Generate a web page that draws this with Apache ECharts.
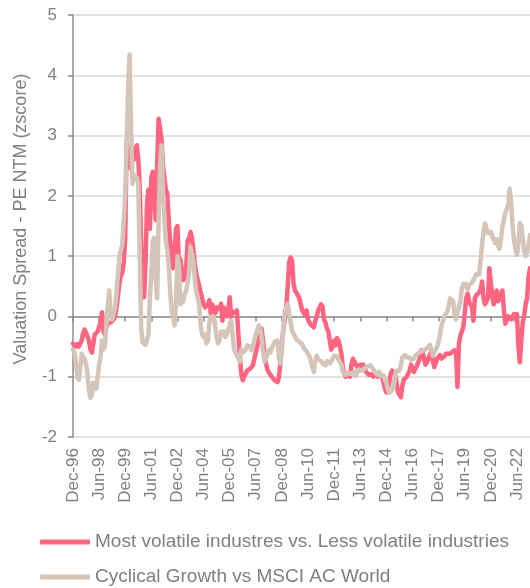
<!DOCTYPE html>
<html lang="en">
<head>
    <meta charset="UTF-8">
    <title>Valuation Spread</title>
    <script src="https://cdn.jsdelivr.net/npm/echarts@6/dist/echarts.min.js"></script>
    <style>
        body { margin: 0; padding: 0; background: #fff; }
        #chart { width: 530px; height: 588px; }
    </style>
</head>
<body>
<div id="chart"></div>
<script>
    // monthly series, Dec-96 onwards
    const startYear = 1996;
    const startMonth = 11; // December

    const volatileSpread = [
        -0.45, -0.48, -0.5, -0.46, -0.5, -0.45, -0.4, -0.28, -0.22, -0.27, -0.3, -0.4,
        -0.55, -0.6, -0.45, -0.3, -0.28, -0.25, -0.22, -0.1, 0.07, -0.25, -0.3, -0.18,
        -0.12, -0.15, -0.1, -0.08, -0.05, 0.0, 0.15, 0.35, 0.55, 0.68, 0.72, 0.9,
        1.3, 2.9, 2.75, 2.5, 2.45, 2.8, 2.6, 2.75, 2.84, 2.6, 2.15, 1.2,
        0.5, 0.32, 0.9, 1.87, 2.1, 1.45, 2.3, 2.4, 2.38, 1.6, 2.5, 3.28,
        3.25, 2.95, 2.5, 2.3, 2.1, 2.04, 1.6, 1.2, 0.95, 0.8, 1.1, 1.45,
        1.5, 0.85, 0.95, 0.92, 0.6, 0.65, 0.8, 1.25, 1.3, 1.4, 1.3, 1.1,
        0.87, 0.7, 0.6, 0.5, 0.4, 0.3, 0.2, 0.15, 0.12, 0.2, 0.27, 0.04,
        0.2, 0.22, 0.05, 0.15, 0.18, 0.12, 0.21, -0.07, 0.15, 0.1, 0.0, 0.1,
        0.32, 0.0, 0.08, 0.1, 0.06, 0.1, -0.3, -0.68, -0.95, -1.06, -1.0, -0.95,
        -0.9, -0.88, -0.87, -0.84, -0.81, -0.7, -0.6, -0.5, -0.35, -0.25, -0.2, -0.4,
        -0.65, -0.78, -0.88, -0.93, -0.95, -1.0, -1.02, -1.06, -1.05, -1.09, -1.0, -0.75,
        -0.45, -0.2, -0.05, 0.15, 0.5, 0.9, 0.98, 0.93, 0.55, 0.43, 0.42, 0.35,
        0.3, 0.2, 0.1, 0.08, 0.02, 0.1, -0.05, -0.1, -0.14, -0.12, -0.18, -0.07,
        0.0, 0.1, 0.15, 0.2, 0.16, -0.05, -0.1, -0.2, -0.25, -0.4, -0.55, -0.5,
        -0.4, -0.48, -0.36, -0.4, -0.5, -0.62, -0.84, -0.95, -1.0, -0.95, -0.92, -1.0,
        -0.79, -0.7, -0.73, -0.8, -0.84, -0.82, -0.8, -0.86, -0.8, -0.85, -0.92, -0.95,
        -0.97, -0.98, -0.96, -1.0, -0.98, -0.95, -1.0, -0.95, -0.98, -1.0, -1.1, -1.2,
        -1.26, -1.2, -1.1, -0.95, -0.9, -0.88, -0.95, -1.1, -1.25, -1.3, -1.34, -1.15,
        -1.05, -1.08, -1.0, -0.95, -0.9, -0.8, -0.85, -0.92, -0.9, -0.82, -0.79, -0.7,
        -0.56, -0.6, -0.7, -0.8, -0.76, -0.7, -0.67, -0.58, -0.73, -0.84, -0.78, -0.7,
        -0.67, -0.64, -0.7, -0.68, -0.66, -0.62, -0.6, -0.62, -0.64, -0.6, -0.58, -0.56,
        -0.6, -1.17, -0.45, -0.32, -0.25, -0.18, 0.04, 0.3, 0.38, 0.25, 0.28, 0.15,
        -0.07, 0.3, 0.35, 0.32, 0.4, 0.45, 0.58, 0.3, 0.2, 0.18, 0.3, 0.8,
        0.55, 0.35, 0.2, 0.35, 0.43, 0.25, 0.32, 0.3, 0.43, 0.1, -0.12, -0.1,
        0.0, 0.02, -0.05, 0.0, 0.04, -0.05, 0.04, -0.5, -0.76, -0.4, -0.1, 0.02,
        0.2, 0.3, 0.65, 0.8
    ];

    const cyclicalSpread = [
        -0.55, -0.6, -0.75, -1.0, -1.05, -0.85, -0.62, -0.6, -0.7, -0.8, -0.95, -1.23,
        -1.35, -1.3, -1.1, -1.15, -1.2, -1.0, -0.8, -0.67, -0.4, -0.55, -0.5, -0.12,
        0.2, 0.43, 0.0, -0.05, 0.05, 0.15, 0.4, 0.7, 1.0, 1.1, 1.2, 1.2,
        2.0, 2.9, 3.8, 4.35, 3.2, 2.2, 2.35, 2.37, 2.3, 2.2, 1.0, -0.2,
        -0.43, -0.46, -0.47, -0.45, -0.3, 0.3, 0.75, 1.25, 1.3, 0.6, 0.3, 1.6,
        2.5, 2.84, 2.1, 1.6, 1.25, 1.1, 0.85, 0.4, 0.1, 0.0, -0.15, 0.2,
        1.0, 0.85, 0.2, 0.2, 0.25, 0.38, 0.42, 0.43, 0.7, 1.15, 1.18, 0.93,
        0.6, 0.4, 0.3, 0.2, -0.15, -0.3, -0.34, -0.3, -0.45, -0.4, -0.1, 0.0,
        -0.05, 0.0, -0.15, -0.35, -0.45, -0.4, -0.25, -0.3, -0.25, -0.34, -0.3, -0.3,
        -0.15, -0.07, -0.3, -0.55, -0.6, -0.62, -0.7, -0.75, -0.55, -0.6, -0.62, -0.55,
        -0.48, -0.45, -0.5, -0.56, -0.5, -0.4, -0.3, -0.23, -0.15, -0.2, -0.35, -0.6,
        -0.75, -0.7, -0.62, -0.56, -0.6, -0.52, -0.48, -0.42, -0.45, -0.4, -0.7, -0.78,
        -0.55, -0.2, 0.1, 0.15, 0.21, 0.05, -0.1, -0.23, -0.29, -0.33, -0.38, -0.4,
        -0.42, -0.45, -0.46, -0.52, -0.51, -0.58, -0.6, -0.66, -0.75, -0.84, -0.92, -0.72,
        -0.65, -0.72, -0.73, -0.74, -0.78, -0.8, -0.81, -0.74, -0.76, -0.78, -0.74, -0.7,
        -0.65, -0.64, -0.66, -0.72, -0.7, -0.8, -0.92, -0.95, -0.97, -1.0, -0.94, -0.96,
        -0.95, -0.94, -0.92, -0.98, -0.95, -0.88, -0.86, -0.9, -0.9, -0.86, -0.84, -0.83,
        -0.82, -0.81, -0.79, -0.88, -0.92, -0.95, -0.97, -0.92, -0.98, -1.0, -0.98, -1.05,
        -1.1, -1.2, -1.27, -1.25, -1.22, -1.15, -1.0, -0.9, -0.88, -0.9, -0.8, -0.68,
        -0.66, -0.64, -0.68, -0.66, -0.68, -0.72, -0.75, -0.7, -0.65, -0.63, -0.61, -0.6,
        -0.58, -0.57, -0.56, -0.54, -0.53, -0.5, -0.47, -0.55, -0.65, -0.6, -0.55, -0.5,
        -0.42, -0.3, -0.15, -0.08, 0.0, 0.0, 0.08, 0.18, 0.3, 0.28, 0.25, 0.02,
        -0.05, 0.08, 0.15, 0.25, 0.46, 0.54, 0.5, 0.54, 0.45, 0.52, 0.54, 0.56,
        0.6, 0.63, 0.7, 0.7, 0.7, 0.95, 1.2, 1.4, 1.54, 1.45, 1.38, 1.35,
        1.4, 1.33, 1.3, 1.22, 1.28, 1.18, 1.12, 1.28, 1.5, 1.6, 1.72, 1.78,
        1.85, 2.12, 1.9, 1.5, 1.25, 1.12, 1.02, 1.2, 1.55, 1.5, 1.3, 1.08,
        1.0, 1.05, 1.2, 1.35
    ];

    const seriesNames = [
        'Most volatile industres vs. Less volatile industries',
        'Cyclical Growth vs MSCI AC World'
    ];

    // month labels like Dec-96
    const monthNames = ['Jan', 'Feb', 'Mar', 'Apr', 'May', 'Jun', 'Jul', 'Aug', 'Sep', 'Oct', 'Nov', 'Dec'];
    const months = volatileSpread.map((v, i) => {
        const m = startMonth + i;
        const y = startYear + Math.floor(m / 12);
        return monthNames[m % 12] + '-' + String(y % 100).padStart(2, '0');
    });

    const font = 'Arial, "Liberation Sans", sans-serif';
    const grey = '#7f7f7f';

    const chart = echarts.init(document.getElementById('chart'));
    chart.setOption({
        animation: false,
        textStyle: { fontFamily: font },
        grid: { left: 73, right: 0, top: 15, bottom: 151 },
        legend: {
            orient: 'vertical',
            left: 40,
            top: 531,
            height: 80,
            padding: 0,
            itemWidth: 50,
            itemHeight: 5,
            itemGap: 13,
            icon: 'roundRect',
            textStyle: { fontSize: 19, color: grey, fontFamily: font, lineHeight: 22 },
            data: seriesNames
        },
        xAxis: [
            {
                // labels along the bottom
                type: 'category',
                data: months,
                boundaryGap: false,
                axisLine: { show: false, onZero: false },
                axisTick: { show: false },
                axisLabel: {
                    interval: 17,
                    rotate: 90,
                    margin: 11,
                    fontSize: 17,
                    color: grey,
                    fontFamily: font
                },
                splitLine: { show: false }
            },
            {
                // axis line + ticks crossing at zero
                type: 'category',
                data: months,
                boundaryGap: false,
                position: 'bottom',
                axisLine: { show: true, onZero: true, lineStyle: { color: '#8c8c8c', width: 1.5 } },
                axisTick: { show: true, interval: 17, length: 5, lineStyle: { color: '#8c8c8c', width: 1.5 } },
                axisLabel: { show: false },
                splitLine: { show: false }
            }
        ],
        yAxis: {
            type: 'value',
            min: -2,
            max: 5,
            interval: 1,
            name: 'Valuation Spread - PE NTM (zscore)',
            nameLocation: 'middle',
            nameGap: 43,
            nameTextStyle: { fontSize: 18, color: grey, fontFamily: font, padding: [0, 0, 0, 14] },
            axisLine: { show: true, lineStyle: { color: '#8c8c8c', width: 1.5 } },
            axisTick: { show: true, length: 5, lineStyle: { color: '#8c8c8c', width: 1.5 } },
            axisLabel: { fontSize: 17, color: grey, margin: 16, fontFamily: font },
            splitLine: { lineStyle: { color: '#d9d9d9', width: 1.5 } }
        },
        series: [
            {
                name: seriesNames[0],
                type: 'line',
                data: volatileSpread,
                showSymbol: false,
                color: '#ff6480',
                lineStyle: { width: 4.5, cap: 'round', join: 'round' }
            },
            {
                name: seriesNames[1],
                type: 'line',
                data: cyclicalSpread,
                showSymbol: false,
                color: '#d5c4b8',
                lineStyle: { width: 4.5, cap: 'round', join: 'round' }
            }
        ]
    });
</script>
</body>
</html>
